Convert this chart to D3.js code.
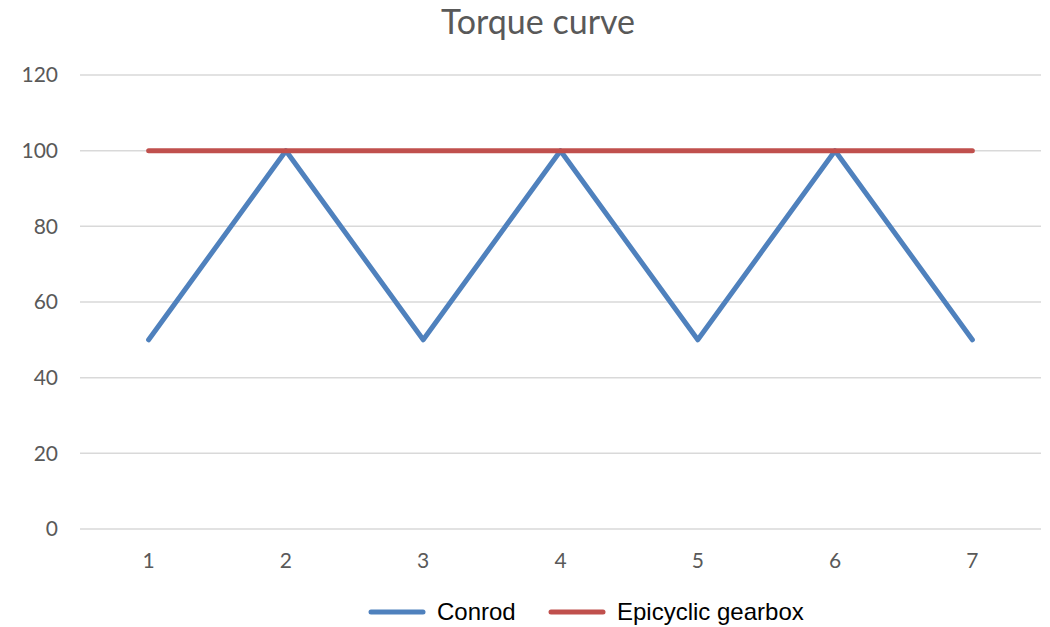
<!DOCTYPE html>
<html>
<head>
<meta charset="utf-8">
<script src="https://cdn.jsdelivr.net/npm/d3@7"></script>
<style>
  body { margin: 0; background: #fff; }
</style>
</head>
<body>
<svg id="chart"></svg>
<script>
// chart data
const categories = ["1", "2", "3", "4", "5", "6", "7"];
const conrod = [50, 100, 50, 100, 50, 100, 50];
const epicyclic = [100, 100, 100, 100, 100, 100, 100];
const yTicks = [0, 20, 40, 60, 80, 100, 120];
const seriesNames = ["Conrod", "Epicyclic gearbox"];
const seriesColors = ["#4F81BD", "#C0504D"];

const W = 1050, H = 627;
const svg = d3.select("#chart").attr("width", W).attr("height", H);

const x = d3.scaleBand().domain(categories).range([80, 1041]);
const y = d3.scaleLinear().domain([0, 120]).range([529, 75]);

// gridlines
svg.append("g")
  .selectAll("line")
  .data(yTicks)
  .join("line")
  .attr("x1", 80).attr("x2", 1041)
  .attr("y1", d => y(d)).attr("y2", d => y(d))
  .attr("stroke", "#d9d9d9")
  .attr("stroke-width", 1.5);

// y labels
svg.append("g")
  .selectAll("text")
  .data(yTicks)
  .join("text")
  .attr("x", 58)
  .attr("y", d => y(d))
  .attr("dy", "0.35em")
  .attr("text-anchor", "end")
  .attr("font-family", "Lato, 'Open Sans', sans-serif")
  .attr("font-size", 21)
  .attr("fill", "#595959")
  .text(d => d);

// x labels
svg.append("g")
  .selectAll("text")
  .data(categories)
  .join("text")
  .attr("x", d => x(d) + x.bandwidth() / 2)
  .attr("y", 568)
  .attr("text-anchor", "middle")
  .attr("font-family", "Lato, 'Open Sans', sans-serif")
  .attr("font-size", 21)
  .attr("fill", "#595959")
  .text(d => d);

// title
svg.append("text")
  .attr("x", 538).attr("y", 34)
  .attr("text-anchor", "middle")
  .attr("font-family", "Lato, 'Open Sans', sans-serif")
  .attr("font-size", 34)
  .attr("fill", "#595959")
  .text("Torque curve");

const line = d3.line()
  .x((d, i) => x(categories[i]) + x.bandwidth() / 2)
  .y(d => y(d));

[conrod, epicyclic].forEach((s, k) => {
  svg.append("path")
    .datum(s)
    .attr("d", line)
    .attr("fill", "none")
    .attr("stroke", seriesColors[k])
    .attr("stroke-width", 5)
    .attr("stroke-linecap", "round")
    .attr("stroke-linejoin", "round");
});

// legend
const legX = [371, 551];
seriesNames.forEach((n, k) => {
  const g = svg.append("g").attr("transform", "translate(" + legX[k] + ",612)");
  g.append("line")
    .attr("x1", 0).attr("x2", 52)
    .attr("stroke", seriesColors[k])
    .attr("stroke-width", 5)
    .attr("stroke-linecap", "round");
  g.append("text")
    .attr("x", 66).attr("dy", "0.35em")
    .attr("font-family", "'Liberation Sans', Arial, sans-serif")
    .attr("font-size", 24)
    .attr("fill", "#000")
    .text(n);
});
</script>
</body>
</html>
